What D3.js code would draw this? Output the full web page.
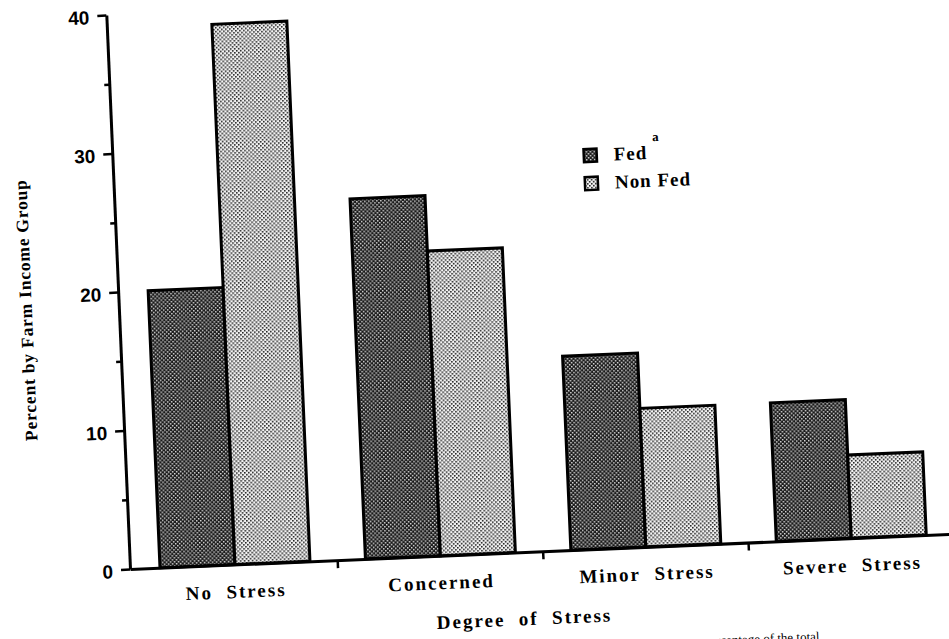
<!DOCTYPE html>
<html><head><meta charset="utf-8">
<script src="https://cdn.jsdelivr.net/npm/d3@7"></script>
<style>body{margin:0;background:#fff} svg{display:block}</style>
</head><body>
<svg id="chart" width="949" height="639"></svg>
<script>
// ---- data ----
const categories = ["No Stress", "Concerned", "Minor Stress", "Severe Stress"];
const seriesNames = ["Fed", "Non Fed"];
const fedValues = [20, 26, 14, 10];
const nonFedValues = [39, 22, 10, 6];
const yTicks = [0, 10, 20, 30, 40];
const yMinorTicks = [5, 15, 25, 35];
const yTitle = "Percent by Farm Income Group";
const xTitle = "Degree of Stress";
const legendNote = "a";
const footnote = "percentage of the total";

// ---- layout ----
const ox = 130, oy = 569, tilt = -2.45;
const svg = d3.select("#chart");
svg.append("rect").attr("width", 949).attr("height", 639).attr("fill", "#fff");

const defs = svg.append("defs");
const pFed = defs.append("pattern").attr("id", "pFed").attr("patternUnits", "userSpaceOnUse")
  .attr("width", 4).attr("height", 4);
pFed.append("rect").attr("width", 4).attr("height", 4).attr("fill", "#1a1a1a");
pFed.append("rect").attr("x", 0).attr("y", 0).attr("width", 1.5).attr("height", 1.5).attr("fill", "#dcdcdc");
pFed.append("rect").attr("x", 2).attr("y", 2).attr("width", 1.5).attr("height", 1.5).attr("fill", "#dcdcdc");
const pNon = defs.append("pattern").attr("id", "pNon").attr("patternUnits", "userSpaceOnUse")
  .attr("width", 4).attr("height", 4);
pNon.append("rect").attr("width", 4).attr("height", 4).attr("fill", "#f4f4f4");
pNon.append("rect").attr("x", 0).attr("y", 0).attr("width", 1.6).attr("height", 1.6).attr("fill", "#1e1e1e");
pNon.append("rect").attr("x", 2).attr("y", 2).attr("width", 1.6).attr("height", 1.6).attr("fill", "#1e1e1e");
const fills = {"Fed": "url(#pFed)", "Non Fed": "url(#pNon)"};

const g = svg.append("g").attr("transform", `rotate(${tilt},${ox},${oy}) translate(${ox},${oy})`);

const x0 = d3.scaleBand().domain(categories).range([0, 827]).paddingInner(0.27).paddingOuter(0.146);
const x1 = d3.scaleBand().domain(seriesNames).range([0, x0.bandwidth()]);
const y = d3.scaleLinear().domain([0, 40]).range([0, -554.5]);

const rows = categories.map((c, i) => ({cat: c, vals: [
  {s: "Fed", v: fedValues[i]}, {s: "Non Fed", v: nonFedValues[i]}]}));

const serif = "'Liberation Serif','Times New Roman',serif";
const sans = "'Liberation Sans',Arial,sans-serif";

// bars
const grp = g.selectAll("g.grp").data(rows).join("g").attr("class", "grp")
  .attr("transform", d => `translate(${x0(d.cat)},0)`);
grp.selectAll("rect").data(d => d.vals).join("rect")
  .attr("x", d => x1(d.s)).attr("width", x1.bandwidth())
  .attr("y", d => y(d.v)).attr("height", d => y(0) - y(d.v))
  .attr("fill", d => fills[d.s]).attr("stroke", "#000").attr("stroke-width", 3)
  .attr("stroke-linejoin", "miter");

// y axis
const yAxis = g.append("g").call(d3.axisLeft(y).tickValues(yTicks).tickSize(9).tickSizeOuter(0).tickPadding(8).tickFormat(d3.format("d")));
yAxis.select(".domain").attr("stroke-width", 3).attr("stroke", "#000");
yAxis.selectAll(".tick line").attr("stroke-width", 2.5).attr("stroke", "#000");
yAxis.selectAll(".tick text").attr("font-family", sans).attr("font-weight", "bold").attr("font-size", 19)
  .attr("fill", "#000").attr("dy", "0.42em");
const yMinor = g.append("g").call(d3.axisLeft(y).tickValues(yMinorTicks).tickSize(5).tickSizeOuter(0).tickFormat(""));
yMinor.select(".domain").remove();
yMinor.selectAll(".tick line").attr("stroke-width", 2.5).attr("stroke", "#000");

// x axis (baseline + category labels)
const xAxis = g.append("g").call(d3.axisBottom(x0).tickSize(0).tickSizeOuter(0).tickPadding(20));
xAxis.select(".domain").attr("stroke-width", 3).attr("stroke", "#000");
xAxis.selectAll(".tick text").attr("font-family", serif).attr("font-weight", "bold").attr("font-size", 19)
  .attr("letter-spacing", 2).attr("fill", "#000").attr("dy", "0.71em")
  .text(d => d.replace(" ", "\u00a0 "));
// boundary ticks between groups
const gap = x0.step() - x0.bandwidth();
g.append("g").selectAll("line").data(categories.slice(0, -1)).join("line")
  .attr("x1", d => x0(d) + x0.bandwidth() + gap / 2).attr("x2", d => x0(d) + x0.bandwidth() + gap / 2)
  .attr("y1", 0).attr("y2", 8).attr("stroke", "#000").attr("stroke-width", 2.5);

// axis titles
g.append("text").attr("transform", "translate(-87,-263) rotate(-90)").attr("text-anchor", "middle")
  .attr("font-family", serif).attr("font-weight", "bold").attr("font-size", 17.5).attr("letter-spacing", 0.8)
  .text(yTitle);
g.append("text").attr("x", 392).attr("y", 73).attr("text-anchor", "middle")
  .attr("font-family", serif).attr("font-weight", "bold").attr("font-size", 19).attr("letter-spacing", 2)
  .text(xTitle.replace(/ /g, "\u00a0 "));

// legend
const leg = g.append("g").attr("transform", "translate(471,-400)");
const li = leg.selectAll("g").data(seriesNames).join("g").attr("transform", (d, i) => `translate(0,${i * 28})`);
li.append("rect").attr("width", 13).attr("height", 13).attr("fill", d => fills[d])
  .attr("stroke", "#000").attr("stroke-width", 2.5);
li.append("text").attr("x", 30).attr("y", 12.5).attr("font-family", serif).attr("font-weight", "bold")
  .attr("font-size", 19).attr("letter-spacing", 1).text(d => d);
leg.append("text").attr("x", 69).attr("y", -5).attr("font-family", serif).attr("font-weight", "bold")
  .attr("font-size", 13).text(legendNote);

// footnote (partly cut off by page edge, as in the scan)
g.append("text").attr("x", 686).attr("y", 101).attr("text-anchor", "end")
  .attr("font-family", serif).attr("font-size", 13).text(footnote);
</script>
</body></html>
